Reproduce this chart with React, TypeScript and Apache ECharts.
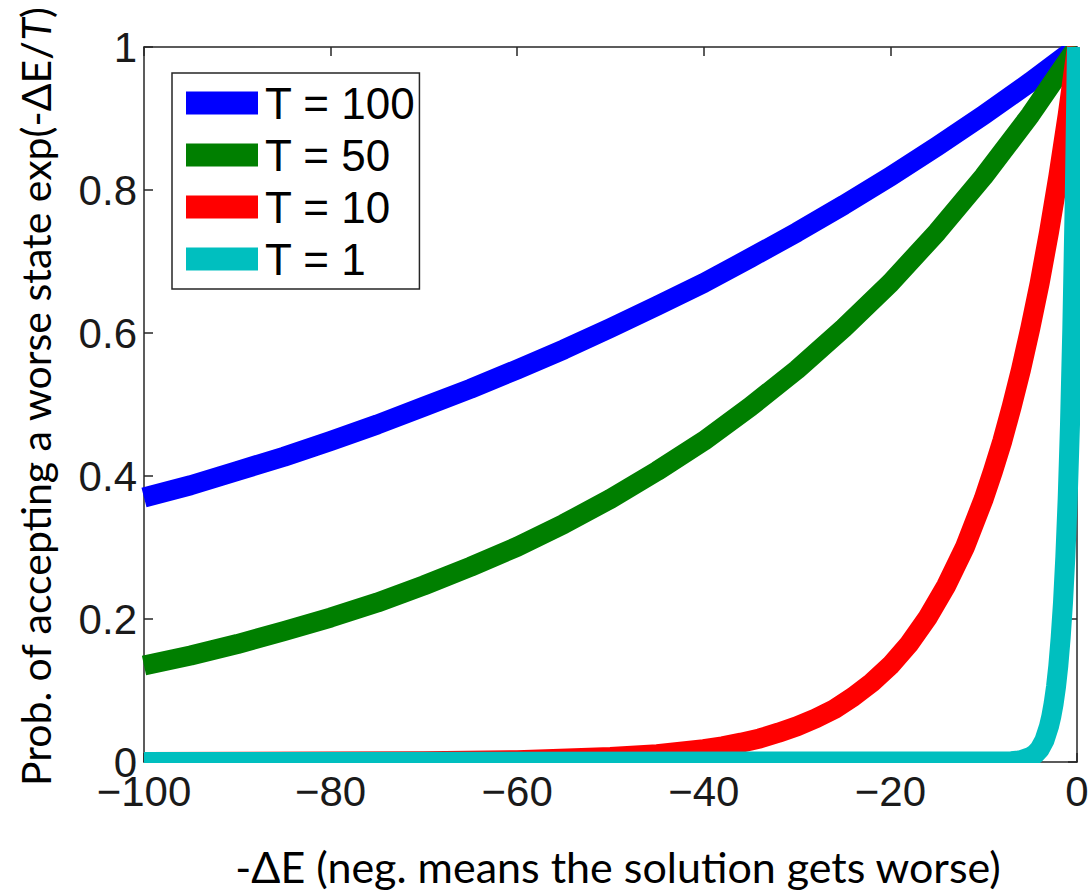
import React, { useEffect, useRef } from "react";
import * as echarts from "echarts";

const seriesNames = ["T = 100", "T = 50", "T = 10", "T = 1"];
const seriesColors = ["#0000ff", "#007f00", "#ff0000", "#00bfbf"];

const xT100 = [-100, -95, -90, -85, -80, -75, -70, -65, -60, -55, -50, -45, -40, -35, -30, -25, -20, -15, -10, -5, 0];
const yT100 = [0.37, 0.387, 0.407, 0.427, 0.449, 0.472, 0.497, 0.522, 0.549, 0.577, 0.607, 0.638, 0.67, 0.705, 0.741, 0.779, 0.819, 0.861, 0.905, 0.951, 1.0];

const xT50 = [-100, -95, -90, -85, -80, -75, -70, -65, -60, -55, -50, -45, -40, -35, -30, -25, -20, -15, -10, -5, 0];
const yT50 = [0.135, 0.149, 0.165, 0.183, 0.202, 0.223, 0.247, 0.273, 0.301, 0.333, 0.368, 0.407, 0.449, 0.497, 0.549, 0.607, 0.67, 0.741, 0.819, 0.905, 1.0];

const xT10 = [-100, -70, -60, -50, -45, -40, -38, -36, -34, -32, -30, -28, -26, -24, -22, -20, -18, -16, -14, -12, -10, -9, -8, -7, -6, -5, -4, -3, -2, -1, 0];
const yT10 = [0.0, 0.001, 0.0025, 0.007, 0.011, 0.018, 0.022, 0.027, 0.033, 0.041, 0.05, 0.061, 0.074, 0.091, 0.111, 0.135, 0.165, 0.202, 0.247, 0.301, 0.368, 0.407, 0.449, 0.497, 0.549, 0.607, 0.67, 0.741, 0.819, 0.905, 1.0];

const xT1 = [-100, -7, -6, -5, -4.5, -4, -3.5, -3, -2.75, -2.5, -2.25, -2, -1.75, -1.5, -1.25, -1, -0.75, -0.5, -0.25, 0];
const yT1 = [0.0, 0.001, 0.0025, 0.007, 0.011, 0.018, 0.03, 0.05, 0.064, 0.082, 0.105, 0.135, 0.174, 0.223, 0.287, 0.368, 0.472, 0.607, 0.779, 1.0];

const xTicks = { min: -100, max: 0, interval: 20 };
const yTicks = { min: 0, max: 1, interval: 0.2 };

const xTitle = "-ΔE (neg. means the solution gets worse)";
const yTitleMain = "Prob. of accepting a worse state exp(-ΔE/";
const yTitleItalic = "T";
const yTitleEnd = ")";

const zip = (xs: number[], ys: number[]) => xs.map((x, i) => [x, ys[i]]);

const W = 1092;
const H = 895;
const GRID = { left: 144, right: 15, top: 47, bottom: 133 };

export default function App() {
  const ref = useRef<HTMLDivElement>(null);
  useEffect(() => {
    if (!ref.current) return;
    const chart = echarts.init(ref.current, null, { renderer: "svg" });
    const axisColor = "#262626";
    const tickFont = { fontFamily: "Liberation Sans, Arial, sans-serif", fontSize: 42, color: "#1a1a1a" };
    const datasets = [zip(xT100, yT100), zip(xT50, yT50), zip(xT10, yT10), zip(xT1, yT1)];
    const baseX = {
      type: "value",
      min: xTicks.min,
      max: xTicks.max,
      interval: xTicks.interval,
      splitLine: { show: false },
      axisLine: { show: true, onZero: false, lineStyle: { color: axisColor, width: 1.5 } },
      axisTick: { show: true, inside: true, length: 9, lineStyle: { color: axisColor, width: 1.5 } },
    };
    const baseY = {
      type: "value",
      min: yTicks.min,
      max: yTicks.max,
      interval: yTicks.interval,
      splitLine: { show: false },
      axisLine: { show: true, onZero: false, lineStyle: { color: axisColor, width: 1.5 } },
      axisTick: { show: true, inside: true, length: 9, lineStyle: { color: axisColor, width: 1.5 } },
    };
    const gx0 = GRID.left;
    const gx1 = W - GRID.right;
    const gy0 = GRID.top;
    const gy1 = H - GRID.bottom;
    const mask = (x: number, y: number, width: number, height: number) => ({
      type: "rect",
      z: 100,
      silent: true,
      shape: { x, y, width, height },
      style: { fill: "#ffffff" },
    });
    chart.setOption({
      animation: false,
      backgroundColor: "#ffffff",
      grid: GRID,
      xAxis: [
        {
          ...baseX,
          position: "bottom",
          axisLabel: {
            ...tickFont,
            margin: 8,
            formatter: (v: number) => String(v).replace("-", "\u2212"),
          },
        },
        { ...baseX, position: "top", axisLabel: { show: false } },
      ],
      yAxis: [
        {
          ...baseY,
          position: "left",
          axisLabel: { ...tickFont, margin: 7 },
        },
        { ...baseY, position: "right", axisLabel: { show: false } },
      ],
      legend: {
        orient: "vertical",
        left: 172,
        top: 73,
        icon: "rect",
        itemWidth: 72,
        itemHeight: 23,
        itemGap: 8,
        padding: [8, 4, 8, 14],
        backgroundColor: "#ffffff",
        borderColor: axisColor,
        borderWidth: 1.5,
        borderRadius: 0,
        z: 200,
        textStyle: {
          fontFamily: "Liberation Sans, Arial, sans-serif",
          fontSize: 44,
          lineHeight: 44,
          color: "#000000",
          padding: [0, 0, 0, 2],
        },
        data: seriesNames,
      },
      series: seriesNames.map((name, i) => ({
        name,
        type: "line",
        data: datasets[i],
        showSymbol: false,
        symbol: "none",
        smooth: false,
        clip: true,
        color: seriesColors[i],
        lineStyle: { color: seriesColors[i], width: 20, join: "round", cap: "butt" },
        itemStyle: { color: seriesColors[i] },
        z: 2 + i,
      })),
      graphic: [
        mask(gx0 - 1, gy1 + 1, W - gx0 + 1, 10),
        mask(gx1 + 3, gy0 - 16, W - gx1 - 3, gy1 - gy0 + 27),
        mask(gx0 - 1, gy0 - 16, W - gx0 + 1, 15),
        {
          type: "text",
          x: 618,
          y: 866,
          style: {
            text: xTitle,
            fontFamily: "Lato, sans-serif",
            fontSize: 43,
            fill: "#000000",
            align: "center",
            verticalAlign: "middle",
          },
        },
        {
          type: "text",
          x: 35,
          y: 397,
          rotation: Math.PI / 2,
          style: {
            text: `{a|${yTitleMain}}{b|${yTitleItalic}}{a|${yTitleEnd}}`,
            align: "center",
            verticalAlign: "middle",
            rich: {
              a: { fontFamily: "Lato, sans-serif", fontSize: 41, fill: "#000000" },
              b: { fontFamily: "Lato, sans-serif", fontSize: 41, fontStyle: "italic", fill: "#000000" },
            },
          },
        },
      ],
    });
    return () => chart.dispose();
  }, []);
  return <div ref={ref} style={{ width: W, height: H, position: "absolute", left: 0, top: 0 }} />;
}
